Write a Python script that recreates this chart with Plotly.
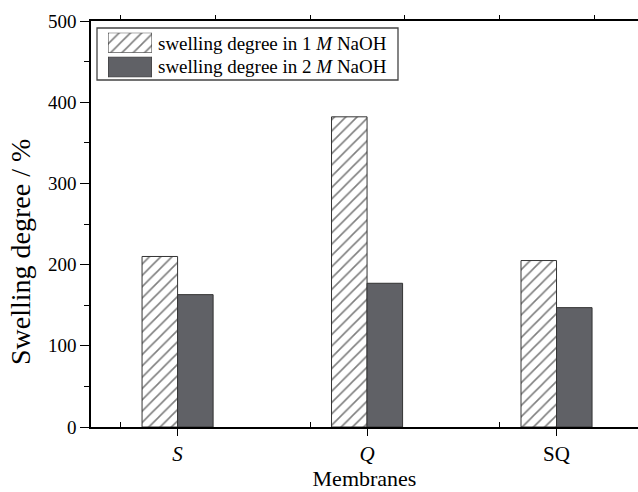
import plotly.graph_objects as go

# Swelling degree of the membranes in NaOH solutions
membranes = ["<i>S</i>", "<i>Q</i>", "SQ"]
positions = [1, 2, 3]
swelling_1m = [210, 382, 205]
swelling_2m = [163, 177, 147]
legend_labels = ["swelling degree in 1 <i>M</i> NaOH", "swelling degree in 2 <i>M</i> NaOH"]
y_title = "Swelling degree / %"
y_ticks = [0, 100, 200, 300, 400, 500]

FONT = "Liberation Serif, Times New Roman, serif"
BAR_W = 0.1875
HATCH = dict(shape="/", fgcolor="#000000", bgcolor="white", size=8, solidity=0.2)
DARK = "#606166"
EDGE = "#333333"

W, H = 638, 492
ML, MR, MT, MB = 91, 0, 21, 65
PW, PH = W - ML - MR, H - MT - MB


def px_x(p):
    return (p - ML) / PW


def px_y(p):
    return (H - MB - p) / PH


fig = go.Figure()

fig.add_trace(go.Bar(
    x=positions, y=swelling_1m, width=BAR_W, offset=-BAR_W,
    marker=dict(color="white", pattern=HATCH, line=dict(color=EDGE, width=1)),
    showlegend=False, xaxis="x", yaxis="y",
))
fig.add_trace(go.Bar(
    x=positions, y=swelling_2m, width=BAR_W, offset=0,
    marker=dict(color=DARK, line=dict(color=EDGE, width=1)),
    showlegend=False, xaxis="x", yaxis="y",
))

# legend swatches drawn as single bars on their own small axes
fig.add_trace(go.Bar(
    x=[0], y=[1], width=1,
    marker=dict(color="white", pattern=HATCH, line=dict(color=EDGE, width=1)),
    showlegend=False, hoverinfo="skip", xaxis="x3", yaxis="y3",
))
fig.add_trace(go.Bar(
    x=[0], y=[1], width=1,
    marker=dict(color=DARK, line=dict(color=EDGE, width=1)),
    showlegend=False, hoverinfo="skip", xaxis="x4", yaxis="y4",
))

x_range = [0.543, 3.43]
axis_line = dict(showline=True, linecolor="black", linewidth=1.5, showgrid=False, zeroline=False)

fig.update_layout(
    width=W, height=H,
    margin=dict(l=ML, r=MR, t=MT, b=MB),
    paper_bgcolor="white", plot_bgcolor="white",
    font=dict(family=FONT, color="black", size=19),
    barmode="overlay",
    xaxis=dict(
        **axis_line, range=x_range, tickmode="array", tickvals=positions, ticktext=membranes,
        ticks="outside", ticklen=7, tickwidth=1.2, tickcolor="black",
        tickfont=dict(size=21),
        minor=dict(tickmode="linear", tick0=0.7, dtick=1, ticks="inside", ticklen=5,
                   tickwidth=1, tickcolor="black"),
        title=dict(text="Membranes", font=dict(size=22), standoff=6),
    ),
    xaxis2=dict(
        **axis_line, overlaying="x", side="top", range=x_range, tickmode="linear",
        tick0=0.7, dtick=0.5, ticks="outside", ticklen=4, tickwidth=1, tickcolor="black",
        showticklabels=False,
    ),
    yaxis=dict(
        **axis_line, range=[0, 500], tickmode="array", tickvals=y_ticks,
        ticks="outside", ticklen=9, tickwidth=1.2, tickcolor="black",
        tickfont=dict(size=19),
        minor=dict(tickmode="linear", tick0=0, dtick=50, ticks="outside", ticklen=5,
                   tickwidth=1, tickcolor="black"),
    ),
    xaxis3=dict(domain=[px_x(108), px_x(152)], range=[-0.5, 0.5], visible=False,
                fixedrange=True, anchor="y3"),
    yaxis3=dict(domain=[px_y(52.7), px_y(32.7)], range=[0, 1], visible=False,
                fixedrange=True, anchor="x3"),
    xaxis4=dict(domain=[px_x(108), px_x(152)], range=[-0.5, 0.5], visible=False,
                fixedrange=True, anchor="y4"),
    yaxis4=dict(domain=[px_y(77.3), px_y(56.7)], range=[0, 1], visible=False,
                fixedrange=True, anchor="x4"),
)

# empty trace so the top axis is drawn
fig.add_trace(go.Scatter(x=[None], y=[None], xaxis="x2", yaxis="y", showlegend=False))

# vertical axis title
fig.add_annotation(xref="paper", yref="paper", x=px_x(20), y=px_y(252),
                   text=y_title, textangle=-90, showarrow=False,
                   xanchor="center", yanchor="middle", font=dict(size=28, family=FONT))

# legend frame and labels
fig.add_shape(type="rect", xref="paper", yref="paper",
              x0=px_x(97), x1=px_x(398), y0=px_y(80), y1=px_y(28),
              line=dict(color="#444444", width=1.3), fillcolor="rgba(0,0,0,0)")
for label, yc in zip(legend_labels, [43, 67]):
    fig.add_annotation(xref="paper", yref="paper", x=px_x(156), y=px_y(yc),
                       text=label, showarrow=False, xanchor="left", yanchor="middle",
                       font=dict(size=19, family=FONT))

fig.write_html("out.html")
